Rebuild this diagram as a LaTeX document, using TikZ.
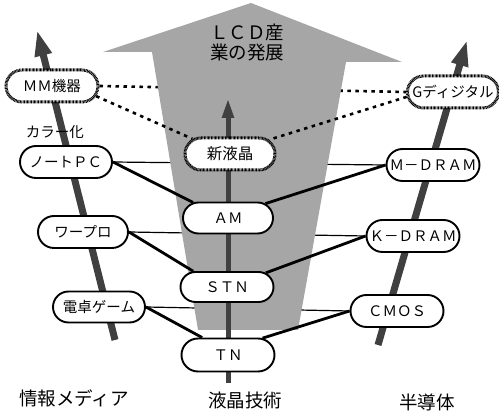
\documentclass[tikz,border=0pt]{standalone}
\usepackage{fontspec}
\newfontfamily\jp{Noto Sans CJK JP}
\usetikzlibrary{arrows.meta,shapes.misc}
\pgfdeclarelayer{layA}\pgfdeclarelayer{layB}\pgfdeclarelayer{layC}\pgfdeclarelayer{layD}
\pgfsetlayers{layA,layB,layC,layD,main}
\begin{document}
\begin{tikzpicture}[x=1pt,y=-1pt,
  box/.style={rounded rectangle, draw, line width=1.9pt, fill=white, minimum width=92pt, minimum height=32pt, inner sep=0pt, font=\jp\fontsize{14.5}{16}\selectfont},
  hbox/.style={box, line width=3pt, dash pattern=on 0.8pt off 0.6pt},
  conn/.style={line width=2.8pt},
  thinconn/.style={line width=1.2pt},
  dots/.style={line width=2.6pt, dash pattern=on 3.5pt off 4.5pt},
  upar/.style={line width=7pt, draw=black!75, -{Triangle[length=26pt,width=16pt]}},
  lbl/.style={font=\jp\fontsize{18.5}{20}\selectfont, inner sep=0pt}]
\useasboundingbox (0,0) rectangle (499,411);

% nodes
\node[hbox] (mm) at (52,86) {ＭＭ機器};
\node[hbox, minimum width=91pt] (gd) at (453,92) {Gディジタル};
\node[hbox, minimum width=90pt] (shin) at (230,154) {\fontsize{15.5}{16}\selectfont 新液晶};
\node[box] (note) at (66,162) {ノートＰＣ};
\node[box, minimum width=93pt] (mdram) at (433,165) {Ｍ－ＤＲＡＭ};
\node[box, minimum width=90pt, minimum height=31pt] (am) at (228,218) {ＡＭ};
\node[box, minimum width=90pt] (wapuro) at (83,232) {ワープロ};
\node[box, minimum width=93pt] (kdram) at (413,236) {Ｋ－ＤＲＡＭ};
\node[box, minimum width=93pt, minimum height=30pt] (stn) at (227,287) {ＳＴＮ};
\node[box, minimum height=31pt] (dentaku) at (99,307) {電卓ゲーム};
\node[box, minimum width=93pt] (cmos) at (397,311) {ＣＭＯＳ};
\node[box, minimum width=93pt, minimum height=33pt] (tn) at (228,355) {ＴＮ};

\node[font=\jp\fontsize{14.5}{16}\selectfont, inner sep=0pt] (kara) at (55,132) {カラー化};
\node[font=\jp\fontsize{18.5}{20}\selectfont, align=center, inner sep=0pt] (lcd) at (247,43) {ＬＣＤ産\\業の発展};

\node[lbl] (l1) at (74,398) {情報メディア};
\node[lbl] (l2) at (245,400) {液晶技術};
\node[lbl] (l3) at (427,402) {半導体};

% arrow end points
\coordinate (lb) at (115,340); \coordinate (lt) at (37,30);
\coordinate (mb) at (228,383); \coordinate (mt) at (228,98);
\coordinate (rb) at (378,345); \coordinate (rt) at (467,40);

\begin{pgfonlayer}{layA}
  \draw[thinconn] (note.east) -- (mdram.west);
  \draw[thinconn] (wapuro.east) -- (kdram.west);
  \draw[thinconn] (dentaku.east) -- (cmos.west);
  \draw[dots] (mm.east) -- (gd.west);
\end{pgfonlayer}

\begin{pgfonlayer}{layB}
  \fill[black!35] (103,52) -- (251,3) -- (402,62) -- (346,62) -- (298,330) -- (198,330) -- (152,52) -- cycle;
\end{pgfonlayer}

\begin{pgfonlayer}{layC}
  \draw[upar] (lb) -- (lt);
  \draw[upar, line width=5pt, -{Triangle[length=20pt,width=11pt]}] (mb) -- (mt);
  \draw[upar] (rb) -- (rt);
\end{pgfonlayer}

\begin{pgfonlayer}{layD}
  \draw[conn] (note.east) -- (am.156);
  \draw[conn] (mdram.west) -- (am.21);
  \draw[conn] (wapuro.east) -- (stn.155);
  \draw[conn] (kdram.west) -- (stn.20);
  \draw[conn] (dentaku.east) -- (tn.146);
  \draw[conn] (cmos.west) -- (tn.26);
  \draw[dots] (mm.-13) -- (shin.158);
  \draw[dots] (gd.186) -- (shin.20);
\end{pgfonlayer}
\end{tikzpicture}
\end{document}
